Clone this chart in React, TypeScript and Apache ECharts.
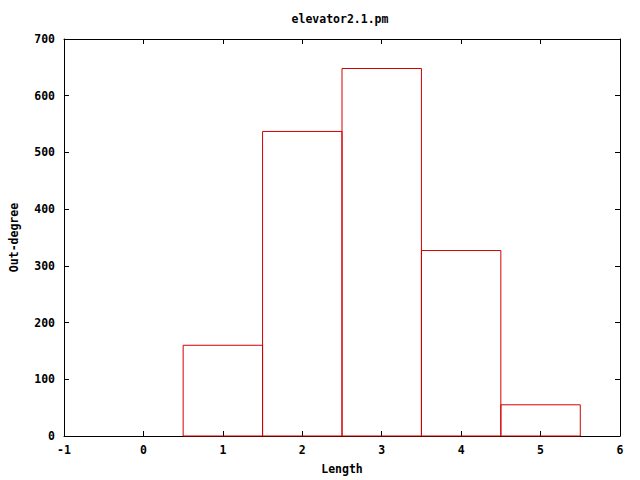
import React, { useEffect, useRef } from "react";
import * as echarts from "echarts";

const lengths = [1, 2, 3, 4, 5];
const outDegree = [160, 537, 648, 327, 55];
const xTicks = { min: -1, max: 6, interval: 1 };
const yTicks = { min: 0, max: 700, interval: 100 };
const titleText = "elevator2.1.pm";
const xName = "Length";
const yName = "Out-degree";

const FONT = "DejaVu Sans Mono";

export default function App() {
  const ref = useRef<HTMLDivElement>(null);
  useEffect(() => {
    if (!ref.current) return;
    const chart = echarts.init(ref.current, undefined, { renderer: "svg" });
    const labelStyle = { color: "#000", fontFamily: FONT, fontWeight: "bold" as const, fontSize: 11.5 };
    const axisLine = { show: true, onZero: false, lineStyle: { color: "#000", width: 1 } };
    const axisTick = { show: true, inside: true, length: 5, lineStyle: { color: "#000", width: 1 } };
    chart.setOption({
      animation: false,
      backgroundColor: "#fff",
      graphic: [
        {
          type: "text",
          x: 340,
          y: 13,
          style: { text: titleText, textAlign: "center", fill: "#000", font: `bold 11.5px "${FONT}"` },
        },
      ],
      grid: { left: 62, right: 20, top: 39, bottom: 40, containLabel: false },
      xAxis: [
        {
          type: "value",
          ...xTicks,
          axisLine,
          axisTick,
          splitLine: { show: false },
          axisLabel: { ...labelStyle, margin: 8 },
          name: xName,
          nameLocation: "middle",
          nameGap: 27,
          nameTextStyle: labelStyle,
        },
        {
          type: "value",
          position: "top",
          ...xTicks,
          axisLine,
          axisTick,
          splitLine: { show: false },
          axisLabel: { show: false },
        },
      ],
      yAxis: [
        {
          type: "value",
          ...yTicks,
          axisLine,
          axisTick,
          splitLine: { show: false },
          axisLabel: { ...labelStyle, margin: 9 },
          name: yName,
          nameLocation: "middle",
          nameRotate: 90,
          nameGap: 44,
          nameTextStyle: labelStyle,
        },
        {
          type: "value",
          position: "right",
          ...yTicks,
          axisLine,
          axisTick,
          splitLine: { show: false },
          axisLabel: { show: false },
        },
      ],
      series: [
        {
          type: "custom",
          xAxisIndex: 0,
          yAxisIndex: 0,
          data: lengths.map((x, i) => [x, outDegree[i]]),
          renderItem: (params: any, api: any) => {
            const x = api.value(0);
            const y = api.value(1);
            const p0 = api.coord([x - 0.5, y]);
            const p1 = api.coord([x + 0.5, 0]);
            return {
              type: "rect",
              shape: { x: p0[0], y: p0[1], width: p1[0] - p0[0], height: p1[1] - p0[1] },
              style: { fill: "none", stroke: "#d00000", lineWidth: 1 },
            };
          },
        },
      ],
    });
    return () => chart.dispose();
  }, []);
  return <div ref={ref} style={{ width: 640, height: 480, position: "absolute", left: 0, top: 0 }} />;
}
